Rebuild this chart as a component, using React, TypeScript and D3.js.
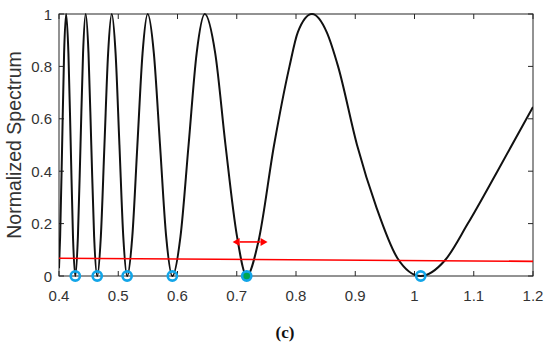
import React from 'react';
import * as d3 from 'd3';

// wavelength (x) and normalized spectrum (y)
const wavelength = [
  0.400, 0.4019, 0.4053, 0.4086, 0.412,
  0.4159, 0.4198, 0.4236, 0.4275,
  0.4319, 0.4363, 0.4406, 0.445,
  0.4498, 0.4545, 0.4593, 0.4645,
  0.4706, 0.4767, 0.4829, 0.489,
  0.4955, 0.502, 0.5085, 0.515,
  0.5237, 0.5323, 0.541, 0.5497,
  0.5601, 0.5705, 0.5809, 0.5913,
  0.605, 0.6187, 0.6323, 0.646,
  0.6637, 0.681, 0.7005, 0.7168,
  0.7364, 0.763, 0.789, 0.803, 0.827,
  0.852, 0.871, 0.903, 0.936, 0.971, 1.0105,
  1.0515, 1.09, 1.14, 1.2,
];
const spectrum = [
  0.03, 0.15, 0.5, 0.85, 1,
  0.85, 0.5, 0.15, 0,
  0.15, 0.5, 0.85, 1,
  0.85, 0.5, 0.15, 0,
  0.15, 0.5, 0.85, 1,
  0.85, 0.5, 0.15, 0,
  0.15, 0.5, 0.85, 1,
  0.85, 0.5, 0.15, 0,
  0.15, 0.5, 0.85, 1,
  0.85, 0.5, 0.15, 0,
  0.13, 0.5, 0.8, 0.93, 1,
  0.93, 0.8, 0.5, 0.26, 0.069, 0,
  0.06, 0.2, 0.4, 0.645,
];

// threshold line end points
const thresholdX = [0.4, 1.2];
const thresholdY = [0.0675, 0.056];

// marked dips (the filled one is the selected dip)
const dipX = [0.4275, 0.4645, 0.515, 0.5913, 0.7168, 1.0105];
const selectedDip = 0.7168;

// width arrow around the selected dip
const arrowX = [0.693, 0.752];
const arrowY = 0.13;

const xTicks = [0.4, 0.5, 0.6, 0.7, 0.8, 0.9, 1, 1.1, 1.2];
const xTickLabels = ['0.4', '0.5', '0.6', '0.7', '0.8', '0.9', '1', '1.1', '1.2'];
const yTicks = [0, 0.2, 0.4, 0.6, 0.8, 1];
const yTickLabels = ['0', '0.2', '0.4', '0.6', '0.8', '1'];

const W = 550;
const H = 342;
const margin = { left: 59, right: 17, top: 14, bottom: 66 };
const axisColor = '#262626';
const font = "'Liberation Sans', Arial, Helvetica, sans-serif";

export default function App() {
  const x = d3.scaleLinear().domain([0.4, 1.2]).range([margin.left, W - margin.right]);
  const y = d3.scaleLinear().domain([0, 1]).range([H - margin.bottom, margin.top]);

  const points: [number, number][] = wavelength.map((w, i) => [w, spectrum[i]]);
  const line = d3.line<[number, number]>()
    .x(d => x(d[0]))
    .y(d => y(d[1]))
    .curve(d3.curveMonotoneX);

  const x0 = x(0.4), x1 = x(1.2), y0 = y(0), y1 = y(1);
  const tickLen = 5;

  const ax0 = x(arrowX[0]), ax1 = x(arrowX[1]), ay = y(arrowY);
  const head = 7, half = 4;

  return (
    <svg width={W} height={H} style={{ position: 'absolute', left: 0, top: 0, background: '#fff' }}>
      <rect width={W} height={H} fill="#fff" />
      <defs>
        <clipPath id="plot">
          <rect x={x0} y={y1 - 2} width={x1 - x0} height={y0 - y1 + 4} />
        </clipPath>
      </defs>

      {/* ticks, inward on all four sides */}
      {xTicks.map(t => (
        <g key={'xt' + t} stroke={axisColor} strokeWidth={1}>
          <line x1={x(t)} x2={x(t)} y1={y0} y2={y0 - tickLen} />
          <line x1={x(t)} x2={x(t)} y1={y1} y2={y1 + tickLen} />
        </g>
      ))}
      {yTicks.map(t => (
        <g key={'yt' + t} stroke={axisColor} strokeWidth={1}>
          <line x1={x0} x2={x0 + tickLen} y1={y(t)} y2={y(t)} />
          <line x1={x1} x2={x1 - tickLen} y1={y(t)} y2={y(t)} />
        </g>
      ))}

      {/* box */}
      <rect x={x0} y={y1} width={x1 - x0} height={y0 - y1} fill="none" stroke={axisColor} strokeWidth={1} />

      {/* tick labels */}
      {xTicks.map((t, i) => (
        <text key={'xl' + t} x={x(t)} y={y0 + 25} textAnchor="middle" fontFamily={font} fontSize={15} fill="#333">
          {xTickLabels[i]}
        </text>
      ))}
      {yTicks.map((t, i) => (
        <text key={'yl' + t} x={x0 - 7} y={y(t) + 5.5} textAnchor="end" fontFamily={font} fontSize={15} fill="#333">
          {yTickLabels[i]}
        </text>
      ))}

      <text
        transform={`translate(21, ${(y0 + y1) / 2}) rotate(-90)`}
        textAnchor="middle"
        fontFamily={font}
        fontSize={19.5}
        fill="#333"
      >
        Normalized Spectrum
      </text>

      <g clipPath="url(#plot)">
        <path d={line(points) ?? ''} fill="none" stroke="#111" strokeWidth={2} strokeLinejoin="round" />
        <line
          x1={x(thresholdX[0])} y1={y(thresholdY[0])}
          x2={x(thresholdX[1])} y2={y(thresholdY[1])}
          stroke="#ff0000" strokeWidth={1.6}
        />
      </g>

      {/* double arrow */}
      <g fill="#ff0000" stroke="#ff0000">
        <line x1={ax0 + head} x2={ax1 - head} y1={ay} y2={ay} strokeWidth={1.6} />
        <path d={`M${ax0},${ay} L${ax0 + head},${ay - half} L${ax0 + head},${ay + half} Z`} stroke="none" />
        <path d={`M${ax1},${ay} L${ax1 - head},${ay - half} L${ax1 - head},${ay + half} Z`} stroke="none" />
      </g>

      {/* dip markers */}
      {dipX.map(d => (
        <circle
          key={'dip' + d}
          cx={x(d)}
          cy={y(0)}
          r={4.6}
          fill={d === selectedDip ? '#00a651' : 'none'}
          stroke="#12a5e8"
          strokeWidth={2.6}
        />
      ))}

      <text x={285} y={338} textAnchor="middle" fontFamily="'Liberation Serif', 'Times New Roman', serif" fontWeight="bold" fontSize={17} fill="#111">
        (c)
      </text>
    </svg>
  );
}
